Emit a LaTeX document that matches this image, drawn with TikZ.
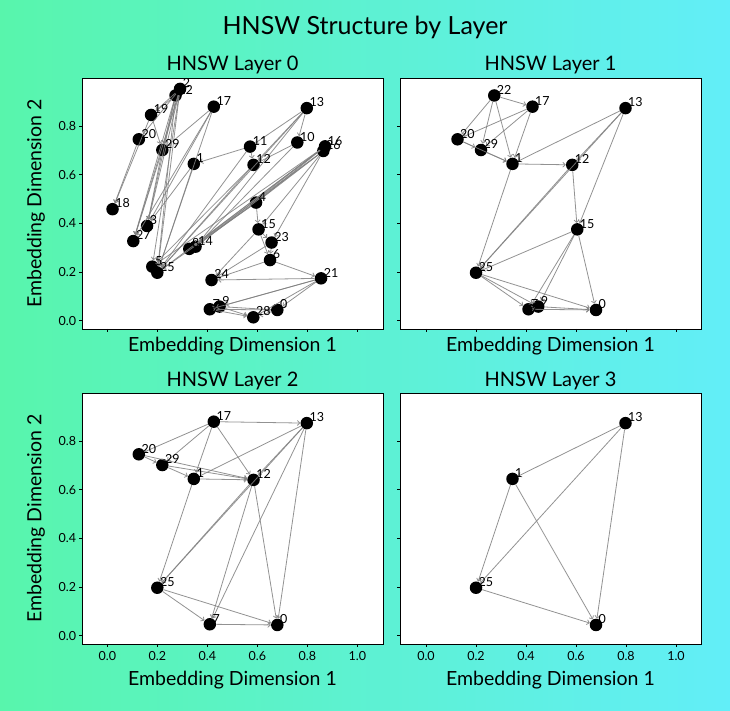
\documentclass[tikz,border=0pt]{standalone}
\usepackage{fontspec}
\setmainfont{Lato}
\usetikzlibrary{arrows.meta}

\definecolor{bgleft}{RGB}{88,245,172}
\definecolor{bgright}{RGB}{98,238,248}

% embedding of the points: index/x/y
\def\ptsA{0/0.680/0.044, 1/0.346/0.644, 2/0.291/0.952, 3/0.159/0.389, 4/0.595/0.485,
  5/0.180/0.222, 6/0.651/0.249, 7/0.410/0.047, 8/0.328/0.295, 9/0.449/0.058,
  10/0.760/0.732, 11/0.571/0.715, 12/0.585/0.640, 13/0.798/0.873, 14/0.353/0.304,
  15/0.605/0.375, 16/0.871/0.716, 17/0.426/0.879, 18/0.021/0.458, 19/0.175/0.845,
  20/0.126/0.745, 21/0.855/0.174, 22/0.273/0.925, 23/0.657/0.321, 24/0.417/0.167,
  25/0.200/0.197, 26/0.864/0.697, 27/0.104/0.327, 28/0.584/0.014, 29/0.220/0.701}
\def\ptsB{0/0.680/0.044, 1/0.346/0.644, 7/0.410/0.047, 9/0.449/0.058, 12/0.585/0.640,
  13/0.798/0.873, 15/0.605/0.375, 17/0.426/0.879, 20/0.126/0.745, 22/0.273/0.925,
  25/0.200/0.197, 29/0.220/0.701}
\def\ptsC{0/0.680/0.044, 1/0.346/0.644, 7/0.410/0.047, 12/0.585/0.640, 13/0.798/0.873,
  17/0.426/0.879, 20/0.126/0.745, 25/0.200/0.197, 29/0.220/0.701}
\def\ptsD{0/0.680/0.044, 1/0.346/0.644, 13/0.798/0.873, 25/0.200/0.197}

% links of each layer: from/to
\def\edgA{2/19, 2/20, 2/29, 2/3, 2/27, 2/5, 2/25, 22/19, 22/29, 22/3, 22/27, 22/25,
  19/18, 20/18, 19/29, 29/3, 29/27, 17/29, 17/3, 17/27, 17/25, 11/1, 1/3, 1/25,
  13/11, 11/12, 11/25, 13/12, 10/12, 12/25, 12/5, 13/10, 13/25, 13/14, 10/14,
  16/4, 16/8, 16/14, 16/25, 16/5, 26/4, 26/15, 26/23, 26/14, 26/8, 4/15, 4/25, 4/8,
  15/23, 15/24, 15/6, 23/6, 23/24, 6/24, 6/21, 21/24, 21/9, 21/7, 21/0, 21/28,
  9/7, 9/0, 9/28, 7/28, 7/0, 0/28}
\def\edgB{22/20, 22/29, 22/1, 22/17, 17/20, 17/29, 17/1, 20/29, 20/1, 29/1, 13/1,
  1/12, 1/25, 13/12, 13/15, 13/25, 12/15, 12/25, 15/25, 15/7, 15/9, 15/0,
  25/7, 25/9, 25/0, 9/7, 9/0, 7/0}
\def\edgC{17/20, 17/29, 17/1, 17/13, 17/12, 20/29, 20/12, 29/1, 29/12, 1/12, 13/1,
  13/12, 12/25, 13/25, 1/25, 12/7, 12/0, 13/7, 13/0, 25/7, 25/0, 7/0}
\def\edgD{13/1, 13/25, 13/0, 1/25, 1/0, 25/0}

\tikzset{
  dot/.style={circle, fill=black, inner sep=0pt, minimum size=12.5pt},
  idx/.style={anchor=south west, inner sep=0pt, xshift=2.5pt, yshift=1pt,
    font=\fontsize{12.5}{12.5}\selectfont},
  link/.style={draw=gray, draw opacity=0.85, line width=0.8pt,
    -{Straight Barb[length=2.5pt,width=5pt]}},
  frame/.style={draw=black, line width=0.8pt, fill=white},
  tickmark/.style={draw=black, line width=0.7pt},
  ticklab/.style={inner sep=0pt, font=\fontsize{12.5}{12.5}\selectfont},
  axlab/.style={font=\fontsize{19.5}{19.5}\selectfont},
  paneltitle/.style={font=\fontsize{20}{20}\selectfont},
}

\begin{document}
\begin{tikzpicture}[x=1pt, y=-1pt]
  \shade[left color=bgleft, right color=bgright] (0,0) rectangle (730,710);
  \useasboundingbox (0,0) rectangle (730,710);

  \node[font=\fontsize{25}{25}\selectfont] (title) at (365,27) {HNSW Structure by Layer};

  % layer 0
  \begin{scope}[shift={(107.3,320.7)}, x=250pt, y=243.5pt]
    \draw[frame] (-0.1,-0.034) rectangle (1.103,0.997);
    \foreach \t in {0.0,0.2,0.4,0.6,0.8,1.0}
      \draw[tickmark] (\t,-0.034) -- ++(0pt,-3.5pt);
    \foreach \t [count=\i] in {0.0,0.2,0.4,0.6,0.8} {
      \draw[tickmark] (-0.1,\t) -- ++(-3.5pt,0pt);
      \node[ticklab, anchor=east] (a-y\i) at ([xshift=-6pt]-0.1,\t) {\t};
    }
    \foreach \n/\x/\y in \ptsA
      \node[dot] (a\n) at (\x,\y) {};
    \foreach \s/\e in \edgA
      \draw[link] (a\s) -- (a\e);
    \foreach \n/\x/\y in \ptsA
      \node[idx] (a\n-t) at (a\n.center) {\n};
  \end{scope}

  % layer 1
  \begin{scope}[shift={(426,320.7)}, x=250pt, y=243.5pt]
    \draw[frame] (-0.104,-0.034) rectangle (1.1,0.997);
    \foreach \t in {0.0,0.2,0.4,0.6,0.8,1.0}
      \draw[tickmark] (\t,-0.034) -- ++(0pt,-3.5pt);
    \foreach \t in {0.0,0.2,0.4,0.6,0.8}
      \draw[tickmark] (-0.104,\t) -- ++(-3.5pt,0pt);
    \foreach \n/\x/\y in \ptsB
      \node[dot] (b\n) at (\x,\y) {};
    \foreach \s/\e in \edgB
      \draw[link] (b\s) -- (b\e);
    \foreach \n/\x/\y in \ptsB
      \node[idx] (b\n-t) at (b\n.center) {\n};
  \end{scope}

  % layer 2
  \begin{scope}[shift={(107.3,635.7)}, x=250pt, y=243.5pt]
    \draw[frame] (-0.1,-0.034) rectangle (1.103,0.997);
    \foreach \t [count=\i] in {0.0,0.2,0.4,0.6,0.8,1.0} {
      \draw[tickmark] (\t,-0.034) -- ++(0pt,-3.5pt);
      \node[ticklab, anchor=north] (c-x\i) at ([yshift=-7pt]\t,-0.034) {\t};
    }
    \foreach \t [count=\i] in {0.0,0.2,0.4,0.6,0.8} {
      \draw[tickmark] (-0.1,\t) -- ++(-3.5pt,0pt);
      \node[ticklab, anchor=east] (c-y\i) at ([xshift=-6pt]-0.1,\t) {\t};
    }
    \foreach \n/\x/\y in \ptsC
      \node[dot] (c\n) at (\x,\y) {};
    \foreach \s/\e in \edgC
      \draw[link] (c\s) -- (c\e);
    \foreach \n/\x/\y in \ptsC
      \node[idx] (c\n-t) at (c\n.center) {\n};
  \end{scope}

  % layer 3
  \begin{scope}[shift={(426,635.7)}, x=250pt, y=243.5pt]
    \draw[frame] (-0.104,-0.034) rectangle (1.1,0.997);
    \foreach \t [count=\i] in {0.0,0.2,0.4,0.6,0.8,1.0} {
      \draw[tickmark] (\t,-0.034) -- ++(0pt,-3.5pt);
      \node[ticklab, anchor=north] (d-x\i) at ([yshift=-7pt]\t,-0.034) {\t};
    }
    \foreach \t in {0.0,0.2,0.4,0.6,0.8}
      \draw[tickmark] (-0.104,\t) -- ++(-3.5pt,0pt);
    \foreach \n/\x/\y in \ptsD
      \node[dot] (d\n) at (\x,\y) {};
    \foreach \s/\e in \edgD
      \draw[link] (d\s) -- (d\e);
    \foreach \n/\x/\y in \ptsD
      \node[idx] (d\n-t) at (d\n.center) {\n};
  \end{scope}

  % titles and axis labels
  \node[paneltitle] (t0) at (232.5,65) {HNSW Layer 0};
  \node[paneltitle] (t1) at (550.5,65) {HNSW Layer 1};
  \node[paneltitle] (t2) at (232.5,381) {HNSW Layer 2};
  \node[paneltitle] (t3) at (550.5,381) {HNSW Layer 3};
  \node[axlab] (x0) at (232.5,346) {Embedding Dimension 1};
  \node[axlab] (x1) at (550.5,346) {Embedding Dimension 1};
  \node[axlab] (x2) at (232.5,680) {Embedding Dimension 1};
  \node[axlab] (x3) at (550.5,680) {Embedding Dimension 1};
  \node[axlab, rotate=90] (y0) at (36,203.5) {Embedding Dimension 2};
  \node[axlab, rotate=90] (y2) at (36,518.5) {Embedding Dimension 2};
\end{tikzpicture}
\end{document}
